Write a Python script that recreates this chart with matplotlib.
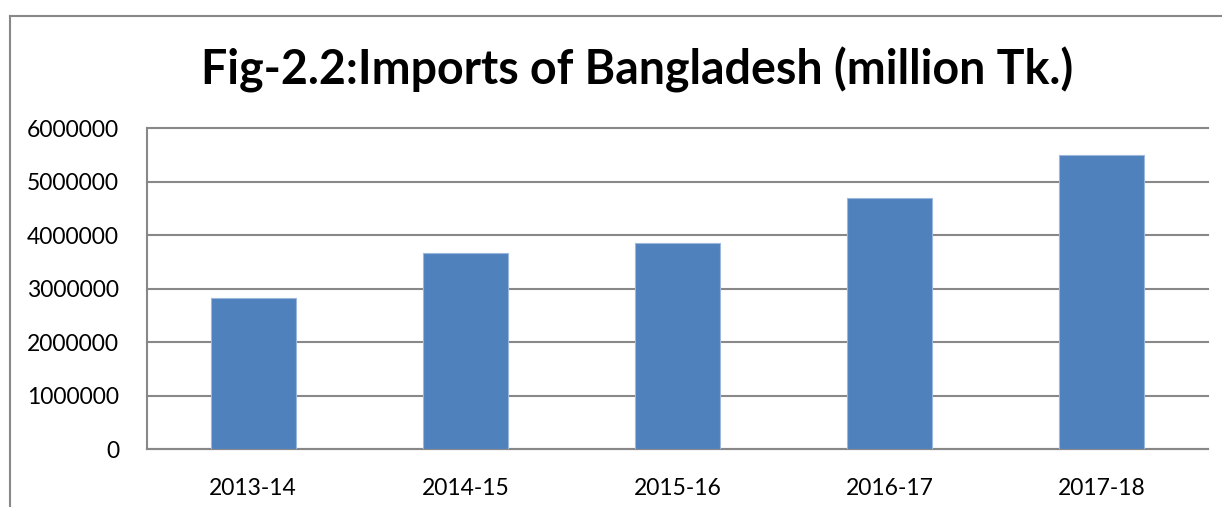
import numpy as np
import matplotlib.pyplot as plt
from matplotlib.lines import Line2D

years = ['2013-14', '2014-15', '2015-16', '2016-17', '2017-18']
imports = [2822000, 3664000, 3862000, 4702000, 5495000]
yticks = [0, 1000000, 2000000, 3000000, 4000000, 5000000, 6000000]

plt.rcParams['font.family'] = ['Lato', 'DejaVu Sans']

fig = plt.figure(figsize=(12.22, 5.07), dpi=100)
ax = fig.add_axes([147/1222, 1 - 449/507, (1208 - 147)/1222, (449 - 128.5)/507])

x = np.arange(len(years))
ax.bar(x, imports, width=0.4, color='#4F81BD', edgecolor='#9DB7DC', linewidth=0.8, zorder=3)

ax.set_xlim(-0.5, len(years) - 0.5)
ax.set_ylim(0, 6000000)
ax.set_yticks(yticks)
ax.set_yticklabels([str(v) for v in yticks])
ax.set_xticks(x)
ax.set_xticklabels(years)
ax.yaxis.grid(True, color='#888888', linewidth=1.5, zorder=0)
for gl in ax.get_ygridlines():
    gl.set_clip_on(False)
ax.tick_params(axis='y', length=0, pad=20, labelsize=16.5)
ax.tick_params(axis='x', length=0, pad=21, labelsize=16.5)

for s in ['top', 'right']:
    ax.spines[s].set_visible(False)
ax.spines['left'].set_color('#888888')
ax.spines['bottom'].set_color('#888888')
ax.spines['left'].set_linewidth(1.5)
ax.spines['bottom'].set_linewidth(1.5)

fig.text(637/1222, 1 - 70/507, 'Fig-2.2:Imports of Bangladesh (million Tk.)',
         ha='center', va='center', fontsize=33.5, fontweight='bold')

# chart frame (clipped by the image edge on right and bottom)
fig.add_artist(Line2D([10/1222, 10/1222], [0, 1 - 16/507], color='#888888', lw=1.5))
fig.add_artist(Line2D([10/1222, 1], [1 - 16/507, 1 - 16/507], color='#888888', lw=1.5))

fig.savefig('out.png', dpi=100)
